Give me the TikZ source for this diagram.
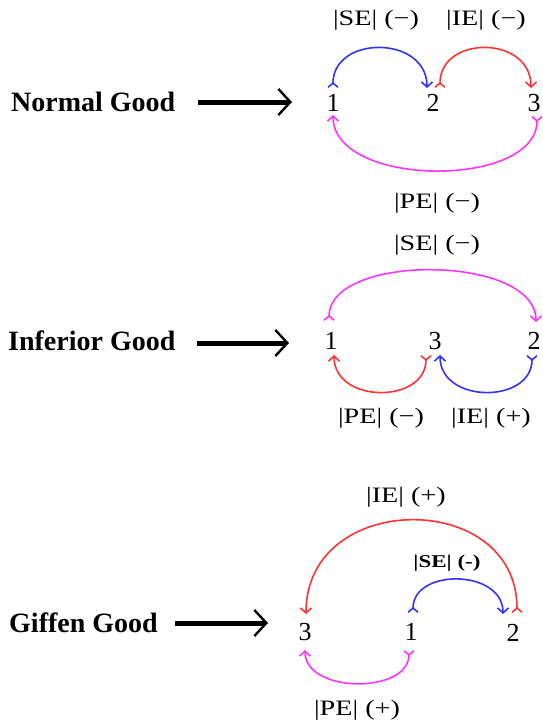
\documentclass[tikz,border=0pt]{standalone}
\usepackage{fontspec}
\setmainfont{Liberation Serif}
\newfontfamily\lblfont[FakeStretch=1.28]{Liberation Serif}
\usetikzlibrary{arrows.meta,calc}

\definecolor{seblue}{RGB}{51,51,255}
\definecolor{iered}{RGB}{255,51,51}
\definecolor{pemag}{RGB}{255,51,255}

\begin{document}
\begin{tikzpicture}[x=1pt,y=-1pt,
  title/.style={font=\bfseries\fontsize{28}{30}\selectfont, anchor=base west, inner sep=0pt},
  digit/.style={font=\fontsize{26}{28}\selectfont, anchor=base, inner sep=0pt},
  lbl/.style={font=\lblfont\fontsize{22}{24}\selectfont, inner sep=0pt},
  blbl/.style={font=\lblfont\bfseries\fontsize{18}{20}\selectfont, inner sep=0pt},
  bigarrow/.style={line width=5pt, -{Straight Barb[length=12pt,width=26pt,line width=2.4pt]}},
  effect/.style={line width=1.6pt,
    {Straight Barb[reversed,length=4pt,width=10pt]}-{Straight Barb[length=5pt,width=11pt]}},
]
\fill[white] (0,0) rectangle (542,726);
\useasboundingbox (0,0) rectangle (542,726);

% ---------- Normal good ----------
\node[title] (tN) at (11,111) {Normal Good};
\coordinate (aNs) at (198,102);
\coordinate (aNe) at (292,102);
\draw[bigarrow] (aNs) -- (aNe);

\node[digit] (N1) at (333,111) {1};
\node[digit] (N2) at (433,111) {2};
\node[digit] (N3) at (534,111) {3};

\node[lbl] (NSE) at (376,20) {|SE| (−)};
\node[lbl] (NIE) at (486,20) {|IE| (−)};
\node[lbl] (NPE) at (437,203) {|PE| (−)};

\coordinate (N1t) at (333,88);
\coordinate (N2tl) at (427,88);
\coordinate (N2tr) at (440,88);
\coordinate (N3t) at (531,88);
\coordinate (N1b) at (333,115);
\coordinate (N3b) at (537,116);

\draw[effect, seblue] (N1t) .. controls ($(N1t)+(0,-53)$) and ($(N2tl)+(0,-53)$) .. (N2tl);
\draw[effect, iered] (N2tr) .. controls ($(N2tr)+(0,-53)$) and ($(N3t)+(0,-53)$) .. (N3t);
\draw[effect, pemag] (N3b) .. controls ($(N3b)+(0,73)$) and ($(N1b)+(0,73)$) .. (N1b);

% ---------- Inferior good ----------
\node[title] (tI) at (8,350) {Inferior Good};
\coordinate (aIs) at (197,343);
\coordinate (aIe) at (289,343);
\draw[bigarrow] (aIs) -- (aIe);

\node[digit] (I1) at (331,349) {1};
\node[digit] (I3) at (435,349) {3};
\node[digit] (I2) at (534,349) {2};

\node[lbl] (ISE) at (437,245) {|SE| (−)};
\node[lbl] (IPE) at (381,418) {|PE| (−)};
\node[lbl] (IIE) at (491,418) {|IE| (+)};

\coordinate (I1t) at (329,321);
\coordinate (I2t) at (536,322);
\coordinate (I1b) at (334,355);
\coordinate (I3bl) at (426,355);
\coordinate (I3br) at (440,355);
\coordinate (I2b) at (532,355);

\draw[effect, pemag] (I1t) .. controls ($(I1t)+(0,-68)$) and ($(I2t)+(0,-68)$) .. (I2t);
\draw[effect, iered] (I3bl) .. controls ($(I3bl)+(0,49)$) and ($(I1b)+(0,49)$) .. (I1b);
\draw[effect, seblue] (I2b) .. controls ($(I2b)+(0,49)$) and ($(I3br)+(0,49)$) .. (I3br);

% ---------- Giffen good ----------
\node[title] (tG) at (9,632) {Giffen Good};
\coordinate (aGs) at (175,623);
\coordinate (aGe) at (268,623);
\draw[bigarrow] (aGs) -- (aGe);

\node[digit] (G3) at (305,640) {3};
\node[digit] (G1) at (411,640) {1};
\node[digit] (G2) at (513,641) {2};

\node[lbl] (GIE) at (406,497) {|IE| (+)};
\node[blbl] (GSE) at (447,563) {|SE| (-)};
\node[lbl] (GPE) at (357,710) {|PE| (+)};

\coordinate (G3t) at (306,614);
\coordinate (G1t) at (413,613);
\coordinate (G2tl) at (503,614);
\coordinate (G2tr) at (517,613);
\coordinate (G3b) at (305,650);
\coordinate (G1b) at (409,650);

\draw[effect, iered] (G2tr) .. controls ($(G2tr)+(0,-124)$) and ($(G3t)+(0,-124)$) .. (G3t);
\draw[effect, seblue] (G1t) .. controls ($(G1t)+(0,-45)$) and ($(G2tl)+(0,-45)$) .. (G2tl);
\draw[effect, pemag] (G1b) .. controls ($(G1b)+(0,44)$) and ($(G3b)+(0,44)$) .. (G3b);
\end{tikzpicture}
\end{document}
